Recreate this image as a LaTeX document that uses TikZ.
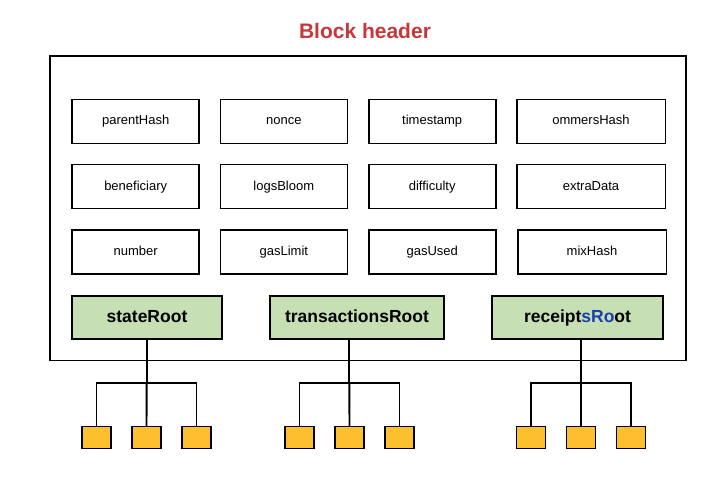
\documentclass[tikz,border=0pt]{standalone}
\usepackage{fontspec}
\setmainfont{Liberation Sans}
\definecolor{titlered}{HTML}{C8373A}
\definecolor{rootgreen}{HTML}{C6E0B4}
\definecolor{leaforange}{HTML}{FCC02E}
\definecolor{hiblue}{HTML}{1A3FB0}
\begin{document}
\begin{tikzpicture}[x=1pt,y=-1pt,
  field/.style={draw,line width=1.6pt,minimum width=127pt,minimum height=44pt,inner sep=0pt,outer sep=0pt,text height=9.6pt,text depth=2.6pt,font=\fontsize{13}{15}\selectfont},
  widefield/.style={field,minimum width=148.6pt},
  rootbox/.style={draw,line width=1.6pt,fill=rootgreen,minimum height=43pt,inner sep=0pt,outer sep=0pt,text height=12.8pt,text depth=3.5pt,font=\bfseries\fontsize{17.5}{20}\selectfont},
  leaf/.style={draw,line width=1.5pt,fill=leaforange,minimum width=29pt,minimum height=22pt,inner sep=0pt,outer sep=0pt},
  frame/.style={draw,line width=1.7pt,minimum width=636pt,minimum height=304.5pt,inner sep=0pt,outer sep=0pt},
  wire/.style={line width=1.9pt,line join=miter}]
\useasboundingbox[fill=white] (0,0) rectangle (727,482);
\node[font=\bfseries\fontsize{21}{24}\selectfont,text=titlered] (title) at (365,31) {Block header};
\node[frame] (hdr) at (368,208.2) {};
% field grid
\node[field] (parentHash) at (135.7,121.3) {parentHash};
\node[field] (nonce) at (283.8,121.3) {nonce};
\node[field] (timestamp) at (432.2,121.3) {timestamp};
\node[widefield] (ommersHash) at (591,121.3) {ommersHash};
\node[field] (beneficiary) at (135.7,186.5) {beneficiary};
\node[field] (logsBloom) at (283.8,186.5) {logsBloom};
\node[field] (difficulty) at (432.2,186.5) {difficulty};
\node[widefield] (extraData) at (591,186.5) {extraData};
\node[field] (number) at (135.7,252) {number};
\node[field] (gasLimit) at (283.8,252) {gasLimit};
\node[field] (gasUsed) at (432.2,252) {gasUsed};
\node[widefield] (mixHash) at (592,252) {mixHash};
% roots
\node[rootbox,minimum width=150pt] (stateRoot) at (147,317.5) {stateRoot};
\node[rootbox,minimum width=174pt] (txRoot) at (357,317.5) {transactionsRoot};
\node[rootbox,minimum width=171pt] (rcRoot) at (577.5,317.5) {receipt\textcolor{hiblue}{sRo}ot};
% leaves
\foreach \n/\x in {s1/96.5,s2/146.5,s3/196.5,t1/299.5,t2/349.5,t3/399.5,r1/531,r2/581,r3/631}
  \node[leaf] (\n) at (\x,437.7) {};
% junctions
\coordinate (sj) at (146.7,382.7);
\coordinate (tj) at (349.3,382.7);
\coordinate (rj) at (581,382.7);
\draw[wire] (stateRoot.south -| sj) -- (sj);
\draw[wire] (s1.north) |- (sj) -| (s3.north);
\draw[wire] (sj) -- (s2.north);
\draw[wire] (txRoot.south -| tj) -- (tj);
\draw[wire] (t1.north) |- (tj) -| (t3.north);
\draw[wire] (tj) -- (t2.north);
\draw[wire] (rcRoot.south -| rj) -- (rj);
\draw[wire] (r1.north) |- (rj) -| (r3.north);
\draw[wire] (rj) -- (r2.north);
\end{tikzpicture}
\end{document}
